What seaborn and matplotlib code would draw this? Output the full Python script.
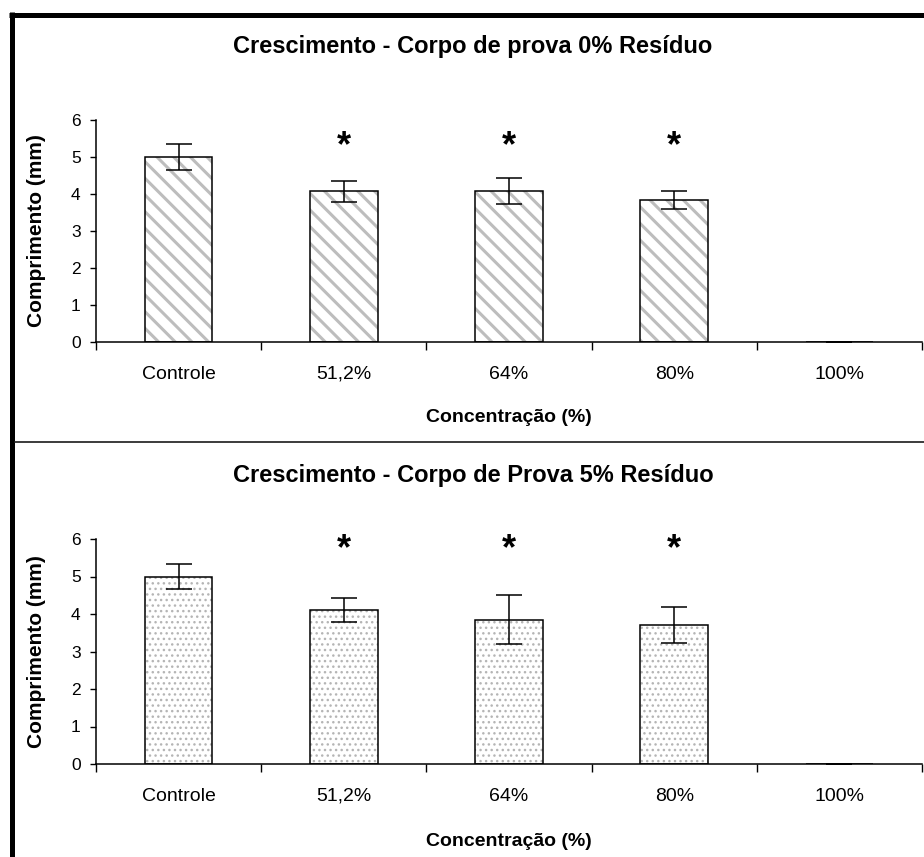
import matplotlib
matplotlib.use("Agg")
import matplotlib.pyplot as plt
from matplotlib.lines import Line2D
from matplotlib.patches import Rectangle
from matplotlib.ticker import FixedLocator
import seaborn as sns

# ---------------- data ----------------
categories = ["Controle", "51,2%", "64%", "80%", "100%"]
means_0 = [5.00, 4.07, 4.08, 3.83, 0.0]
errs_0 = [0.34, 0.29, 0.34, 0.245, 0.0]
means_5 = [5.00, 4.10, 3.85, 3.71, 0.0]
errs_5 = [0.33, 0.32, 0.66, 0.47, 0.0]
significant = [False, True, True, True, False]
yticks = [0, 1, 2, 3, 4, 5, 6]
title_0 = "Crescimento - Corpo de prova 0% Resíduo"
title_5 = "Crescimento - Corpo de Prova 5% Resíduo"
xlabel = "Concentração (%)"
ylabel = "Comprimento (mm)"

sns.set_theme(style="white")
plt.rcParams["font.family"] = ["Liberation Sans", "DejaVu Sans"]
plt.rcParams["hatch.linewidth"] = 1.0

W, H = 924, 857
fig = plt.figure(figsize=(W / 100, H / 100), dpi=100)
fig.patch.set_facecolor("white")


def fx(px):
    return px / W


def fy(py):
    return 1 - py / H


def panel(rect, means, errs, hatch, hatch_color, hatch_lw, star_y, title, title_y):
    ax = fig.add_axes(rect)
    sns.barplot(x=categories, y=means, color="white", width=0.41, ax=ax,
                linewidth=0, edgecolor=hatch_color, saturation=1)
    bars = list(ax.patches)
    for p in bars:
        p.set_hatch(hatch)
        p.set_edgecolor(hatch_color)
        p.set_linewidth(0)
        if hasattr(p, "set_hatch_linewidth"):
            p.set_hatch_linewidth(hatch_lw)
        ax.add_patch(Rectangle(p.get_xy(), p.get_width(), p.get_height(),
                               fill=False, edgecolor="black", linewidth=1.1,
                               zorder=3))
    xs = list(range(len(categories)))
    ax.errorbar(xs, means, yerr=errs, fmt="none", ecolor="black",
                elinewidth=1.1, capsize=9.5, capthick=1.1, zorder=4)
    for i, sig in enumerate(significant):
        if sig:
            ax.text(i, star_y, "*", ha="center", va="center", fontsize=26,
                    fontweight="bold", color="black")
    ax.set_xlim(-0.5, len(categories) - 0.5)
    ax.set_ylim(0, 6)
    ax.set_yticks(yticks)
    ax.set_xticks(xs)
    ax.set_xticklabels(categories)
    for lab in ax.get_xticklabels():
        lab.set_va("baseline")
    ax.xaxis.set_minor_locator(FixedLocator([i - 0.5 for i in range(len(categories) + 1)]))
    ax.tick_params(axis="x", which="major", length=0, pad=26.5, labelsize=14,
                   colors="black")
    ax.tick_params(axis="x", which="minor", length=6, width=1.0, color="black",
                   bottom=True, direction="out")
    ax.tick_params(axis="y", length=4, width=1.0, pad=7, labelsize=12.5,
                   colors="black", left=True, direction="out")
    for s in ["top", "right"]:
        ax.spines[s].set_visible(False)
    for s in ["left", "bottom"]:
        ax.spines[s].set_color("black")
        ax.spines[s].set_linewidth(1.1)
    ax.set_xlabel(xlabel, fontsize=14, fontweight="bold", color="black")
    ax.set_ylabel(ylabel, fontsize=15, fontweight="bold", color="black")
    ax.xaxis.label.set_va("center")
    ax.yaxis.label.set_va("center")
    ax.patch.set_alpha(0)
    fig.text(fx(473), fy(title_y), title, ha="center", va="center",
             fontsize=17, fontweight="bold", color="black")
    return ax


ax1 = panel([fx(96), fy(342), fx(826), 222 / H], means_0, errs_0, "\\\\",
            "#bdbdbd", 2.2, 5.27, title_0, 46.5)
ax1.xaxis.set_label_coords(0.5, (342 - 417) / 222)
ax1.yaxis.set_label_coords((37 - 96) / 826, 0.5)

ax2 = panel([fx(96), fy(764), fx(826), 225 / H], means_5, errs_5, "...",
            "#b5b5b5", 1.0, 5.72, title_5, 475.5)
ax2.xaxis.set_label_coords(0.5, (764 - 841) / 225)
ax2.yaxis.set_label_coords((37 - 96) / 826, 0.5)

# frame lines of the original chart area
fig.add_artist(Line2D([fx(11.5), fx(11.5)], [fy(12), fy(857)], color="black",
                      linewidth=3.6, solid_capstyle="butt"))
fig.add_artist(Line2D([fx(9), fx(924)], [fy(14.5), fy(14.5)], color="black",
                      linewidth=3.6, solid_capstyle="butt"))
fig.add_artist(Line2D([fx(14), fx(924)], [fy(442), fy(442)], color="#1a1a1a",
                      linewidth=1.2, solid_capstyle="butt"))

fig.savefig("out.png", dpi=100, facecolor="white")
